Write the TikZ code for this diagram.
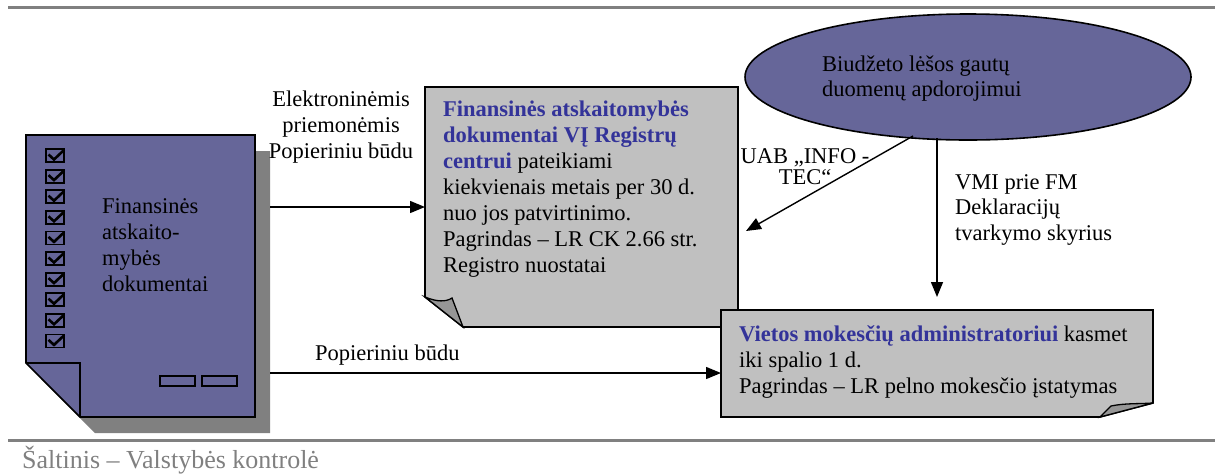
\documentclass[tikz,border=0pt]{standalone}
\usepackage{fontspec}
\setmainfont{Liberation Serif}
\usetikzlibrary{arrows.meta,shapes.geometric}
\definecolor{docpurple}{HTML}{666699}
\definecolor{docblue}{HTML}{333399}
\definecolor{boxgray}{HTML}{C0C0C0}
\definecolor{foldgray}{HTML}{969696}
\definecolor{shadowgray}{HTML}{808080}
\begin{document}
\begin{tikzpicture}[x=1pt,y=-1pt,
  txt/.style={inner sep=0pt, font=\fontsize{22.5}{26}\selectfont},
  outline/.style={draw=black,line width=1.6pt,line join=miter},
  conn/.style={draw=black,line width=1.4pt,-{Triangle[length=15pt,width=12pt]}},
  rulestyle/.style={draw=shadowgray,line width=3pt}]
\useasboundingbox (0,0) rectangle (1215,475);
% rules
\draw[rulestyle] (8,7) -- (1215,7);
\draw[rulestyle] (8,440) -- (1215,440);
\node[txt, anchor=base west, text=shadowgray, font=\fontsize{26}{30}\selectfont] (src) at (22,468) {Šaltinis – Valstybės kontrolė};
% document shape with shadow
\fill[shadowgray] (41,151) -- (270,151) -- (270,433) -- (95,433) -- (41,379) -- cycle;
\path[outline, fill=docpurple] (26,135) -- (255,135) -- (255,417) -- (80,417) -- (26,363) -- cycle;
\draw[line width=1.6pt] (26,363) -- (80,363) -- (80,417);
\foreach \i in {0,...,9} {
  \pgfmathsetmacro\yy{149+\i*20.6}
  \draw[line width=1.8pt] (46,\yy) rectangle (64,{\yy+13});
  \draw[line width=2.6pt, line join=miter] (48.5,{\yy+5.5}) -- (54,{\yy+10.5}) -- (63.5,{\yy+1.5});
}
\draw[line width=1.4pt] (160,376) rectangle (195,386);
\draw[line width=1.4pt] (202,376) rectangle (237,386);
\node[txt, anchor=north west, align=left] (doctxt) at (102,198) {Finansinės\\atskaito-\\mybės\\dokumentai};
% gray box 1
\path[outline, fill=boxgray] (425,87) -- (738,87) -- (738,327) -- (463,327) -- (425,297) -- cycle;
\path[outline, fill=foldgray, line width=1.3pt] (425,297) .. controls (437,302) and (446,302) .. (452,298) -- (463,327) -- cycle;
\node[txt, anchor=north west, align=left] (box1txt) at (443,101) {%
\textbf{\textcolor{docblue}{Finansinės atskaitomybės}}\\
\textbf{\textcolor{docblue}{dokumentai VĮ Registrų}}\\
\textbf{\textcolor{docblue}{centrui}} pateikiami\\
kiekvienais metais per 30 d.\\
nuo jos patvirtinimo.\\
Pagrindas – LR CK 2.66 str.\\
Registro nuostatai};
% gray box 2
\path[outline, fill=boxgray] (721,310) -- (1153,310) -- (1153,403) -- (1100,417) -- (721,417) -- cycle;
\path[outline, fill=foldgray, line width=1.3pt] (1100,417) -- (1111,406) .. controls (1125,403) and (1140,404) .. (1153,403) -- cycle;
\node[txt, anchor=north west, align=left] (box2txt) at (739,325) {%
\textbf{\textcolor{docblue}{Vietos mokesčių administratoriui}} kasmet\\
iki spalio 1 d.\\
Pagrindas – LR pelno mokesčio įstatymas};
% ellipse
\node[ellipse, draw=black, line width=1.6pt, fill=docpurple, minimum width=446pt, minimum height=126pt, inner sep=0pt] (ell) at (968,77) {};
\node[txt, anchor=north west, align=left, font=\fontsize{22.5}{25}\selectfont] (elltxt) at (822,56) {Biudžeto lėšos gautų\\duomenų apdorojimui};
% connector coordinates
\coordinate (docR1) at (270,207);
\coordinate (box1L) at (425,207);
\coordinate (docR2) at (270,373);
\coordinate (box2L) at (721,373);
\coordinate (ellA) at (913,136);
\coordinate (box1R) at (746,231);
\coordinate (ellB) at (937,138);
\coordinate (box2T) at (937,297);
% connectors
\draw[conn] (docR1) -- (box1L);
\draw[conn] (docR2) -- (box2L);
\draw[conn] (ellA) -- (box1R);
\draw[conn] (ellB) -- (box2T);
% labels
\node[txt, anchor=north, align=center] (lab1) at (341,91) {Elektroninėmis\\priemonėmis\\Popieriniu būdu};
\node[txt, anchor=base west] (lab2) at (315,360) {Popieriniu būdu};
\node[txt, anchor=north, align=center, font=\fontsize{22.5}{21.5}\selectfont] (lab3) at (805,148) {UAB „INFO -\\TEC“};
\node[txt, anchor=north west, align=left, font=\fontsize{22.5}{25.5}\selectfont] (lab4) at (955,174) {VMI prie FM\\Deklaracijų\\tvarkymo skyrius};
\end{tikzpicture}
\end{document}
